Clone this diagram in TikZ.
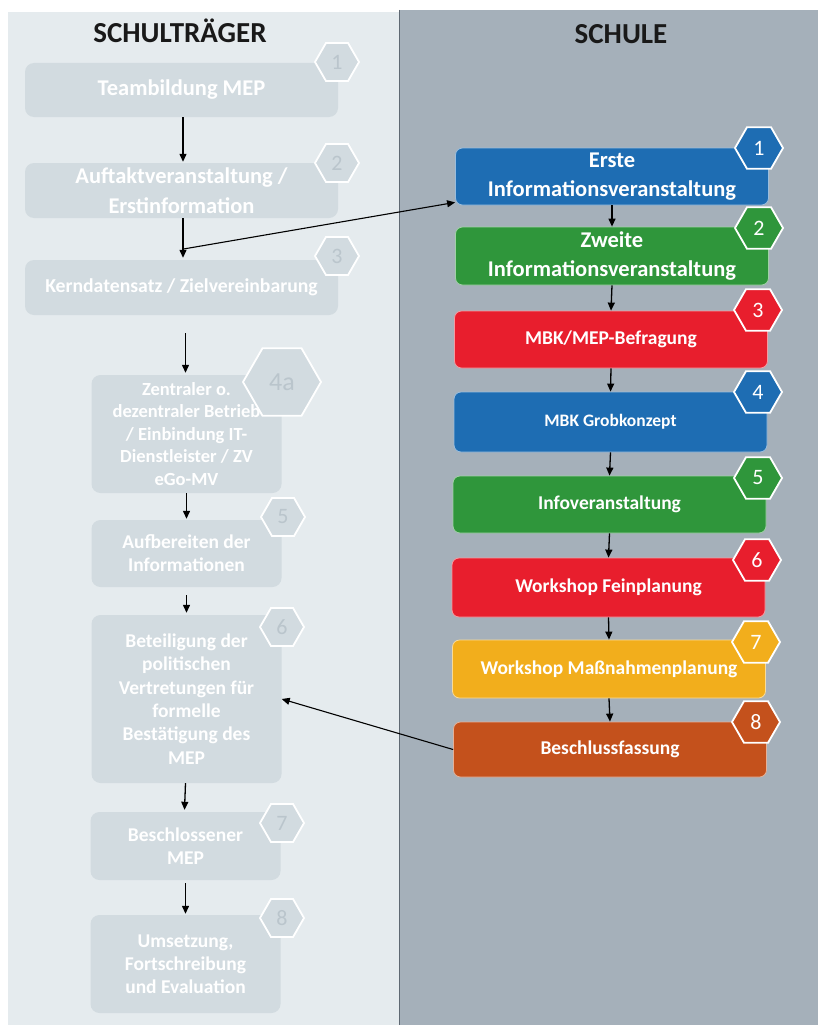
\documentclass[tikz,border=0pt]{standalone}
\usepackage{fontspec}
\setmainfont{Carlito}
\usetikzlibrary{shapes.geometric,arrows.meta}
\definecolor{leftbg}{HTML}{E5EBEE}
\definecolor{rightbg}{HTML}{A5B0BA}
\definecolor{lboxc}{HTML}{D2DBE0}
\definecolor{lnum}{HTML}{BAC5CC}
\definecolor{panelline}{HTML}{5E6872}
\definecolor{cblue}{HTML}{1E6DB3}
\definecolor{cgreen}{HTML}{2F963B}
\definecolor{cred}{HTML}{E81E2D}
\definecolor{cyellow}{HTML}{F2AE1C}
\definecolor{corange}{HTML}{C4511C}
\tikzset{
  lbox/.style={rectangle, rounded corners=9pt, fill=lboxc, text=white, align=center,
    inner sep=0pt, font=\bfseries\fontsize{19}{23}\selectfont},
  rbox/.style={rectangle, rounded corners=7pt, fill=#1, draw=white!55!#1, line width=0.8pt,
    text=white, align=center, inner sep=0pt, minimum width=313pt,
    font=\bfseries\fontsize{19.5}{28}\selectfont},
  lhex/.style={regular polygon, regular polygon sides=6, inner sep=0pt, minimum size=44pt,
    fill=lboxc, draw=white, line width=1.8pt, text=lnum, font=\fontsize{22}{22}\selectfont},
  rhex/.style={regular polygon, regular polygon sides=6, inner sep=0pt, minimum size=48pt,
    fill=#1, draw=white, line width=1.8pt, text=white, font=\fontsize{22}{22}\selectfont},
  arr/.style={-{Triangle[width=7pt,length=8pt]}, line width=1.3pt, black},
  heading/.style={font=\bfseries\fontsize{29}{29}\selectfont, text=black!90}
}
\begin{document}
\begin{tikzpicture}[x=1pt,y=-1pt]
\useasboundingbox (0,0) rectangle (818,1025);
\fill[white] (0,0) rectangle (818,1025);
\fill[leftbg] (8,12) rectangle (399,1025);
\fill[rightbg] (399,10) rectangle (818,1025);
\draw[panelline, line width=1.5pt] (399.5,10) -- (399.5,1025);

% headings
\node[heading] (hl) at (180,31) {SCHULTRÄGER};
\node[heading] (hr) at (621,34) {SCHULE};

% left column
\node[lbox, minimum width=313pt, minimum height=54pt, font=\bfseries\fontsize{22.5}{28}\selectfont] (l1) at (181.5,90) {Teambildung MEP};
\node[lhex] (lh1) at (337,62) {1};
\node[lbox, minimum width=313pt, minimum height=55pt, font=\bfseries\fontsize{22.5}{30}\selectfont] (l2) at (181.5,190.5) {Auftaktveranstaltung /\\Erstinformation};
\node[lhex] (lh2) at (337,163) {2};
\node[lbox, minimum width=313pt, minimum height=55pt, font=\bfseries\fontsize{19.7}{24}\selectfont] (l3) at (181.5,287.5) {Kerndatensatz / Zielvereinbarung};
\node[lhex] (lh3) at (337,256) {3};
\node[lbox, minimum width=190pt, minimum height=118pt, font=\bfseries\fontsize{18.5}{22.5}\selectfont] (l4) at (186.5,434) {Zentraler o.\\dezentraler Betrieb\\/ Einbindung IT-\\Dienstleister / ZV\\eGo-MV};
\node[lhex, minimum size=78pt, font=\fontsize{26}{26}\selectfont] (lh4) at (282,382) {4a};
\node[lbox, minimum width=190pt, minimum height=67pt, font=\bfseries\fontsize{19.5}{23}\selectfont] (l5) at (186.5,553.5) {Aufbereiten der\\Informationen};
\node[lhex] (lh5) at (283,517) {5};
\node[lbox, minimum width=190pt, minimum height=168pt, font=\bfseries\fontsize{19.5}{23.3}\selectfont] (l6) at (186.5,699) {Beteiligung der\\politischen\\Vertretungen für\\formelle\\Bestätigung des\\MEP};
\node[lhex] (lh6) at (282,627) {6};
\node[lbox, minimum width=190pt, minimum height=68pt, font=\bfseries\fontsize{19.5}{23}\selectfont] (l7) at (185.5,846) {Beschlossener\\MEP};
\node[lhex] (lh7) at (282,823) {7};
\node[lbox, minimum width=190pt, minimum height=98pt, font=\bfseries\fontsize{19.5}{23}\selectfont] (l8) at (185.5,964) {Umsetzung,\\Fortschreibung\\und Evaluation};
\node[lhex] (lh8) at (282,918) {8};

% left arrows
\draw[arr] ([xshift=1.5pt]l1.south) -- ([xshift=1.5pt,yshift=1pt]l2.north);
\draw[arr] ([xshift=1.5pt]l2.south) -- ([xshift=1.5pt,yshift=2pt]l3.north);
\draw[arr] ([xshift=-1pt,yshift=-18pt]l4.north |- l3.south) -- ([xshift=-1pt,yshift=2pt]l4.north);
\draw[arr] (l4.south) -- ([yshift=1pt]l5.north);
\draw[arr] ([yshift=-8pt]l5.south) -- ([yshift=2pt]l6.north);
\draw[arr] ([xshift=-1pt]l6.south) -- ([xshift=-1pt,yshift=2pt]l7.north);
\draw[arr] ([yshift=-3pt]l7.south) -- ([yshift=1pt]l8.north);

% right column
\node[rbox=cblue, minimum height=57pt, font=\bfseries\fontsize{22.5}{29}\selectfont] (r1) at (612,176.5) {Erste\\Informationsveranstaltung};
\node[rhex=cblue] (rh1) at (759,148) {1};
\node[rbox=cgreen, minimum height=58pt, font=\bfseries\fontsize{22.5}{29}\selectfont] (r2) at (612,256) {Zweite\\Informationsveranstaltung};
\node[rhex=cgreen] (rh2) at (759,228) {2};
\node[rbox=cred, minimum height=57pt] (r3) at (611,339.5) {MBK/MEP-Befragung};
\node[rhex=cred] (rh3) at (758,310) {3};
\node[rbox=cblue, minimum height=60pt, font=\bfseries\fontsize{17.5}{24}\selectfont] (r4) at (610.5,422) {MBK Grobkonzept};
\node[rhex=cblue] (rh4) at (758,392) {4};
\node[rbox=cgreen, minimum height=57pt] (r5) at (609.5,504.5) {Infoveranstaltung};
\node[rhex=cgreen] (rh5) at (758,478) {5};
\node[rbox=cred, minimum height=59pt] (r6) at (608.5,587.5) {Workshop Feinplanung};
\node[rhex=cred] (rh6) at (757,560) {6};
\node[rbox=cyellow, minimum height=58pt] (r7) at (609,669) {Workshop Maßnahmenplanung};
\node[rhex=cyellow] (rh7) at (756,642) {7};
\node[rbox=corange, minimum height=55pt] (r8) at (610,749.5) {Beschlussfassung};
\node[rhex=corange] (rh8) at (756,722) {8};

% right arrows
\draw[arr] (r1.south) -- (r2.north);
\draw[arr] (r2.south) -- (r3.north);
\draw[arr] (r3.south) -- (r4.north);
\draw[arr] (r4.south) -- (r5.north);
\draw[arr] (r5.south) -- (r6.north);
\draw[arr] (r6.south) -- (r7.north);
\draw[arr] (r7.south) -- (r8.north);

% cross arrows
\coordinate (j) at (183.5,249);
\draw[arr, line width=1.1pt] (j) -- ([yshift=3pt]r1.south west);
\draw[arr, line width=1.1pt] (r8.west) -- (l6.east);
\end{tikzpicture}
\end{document}
